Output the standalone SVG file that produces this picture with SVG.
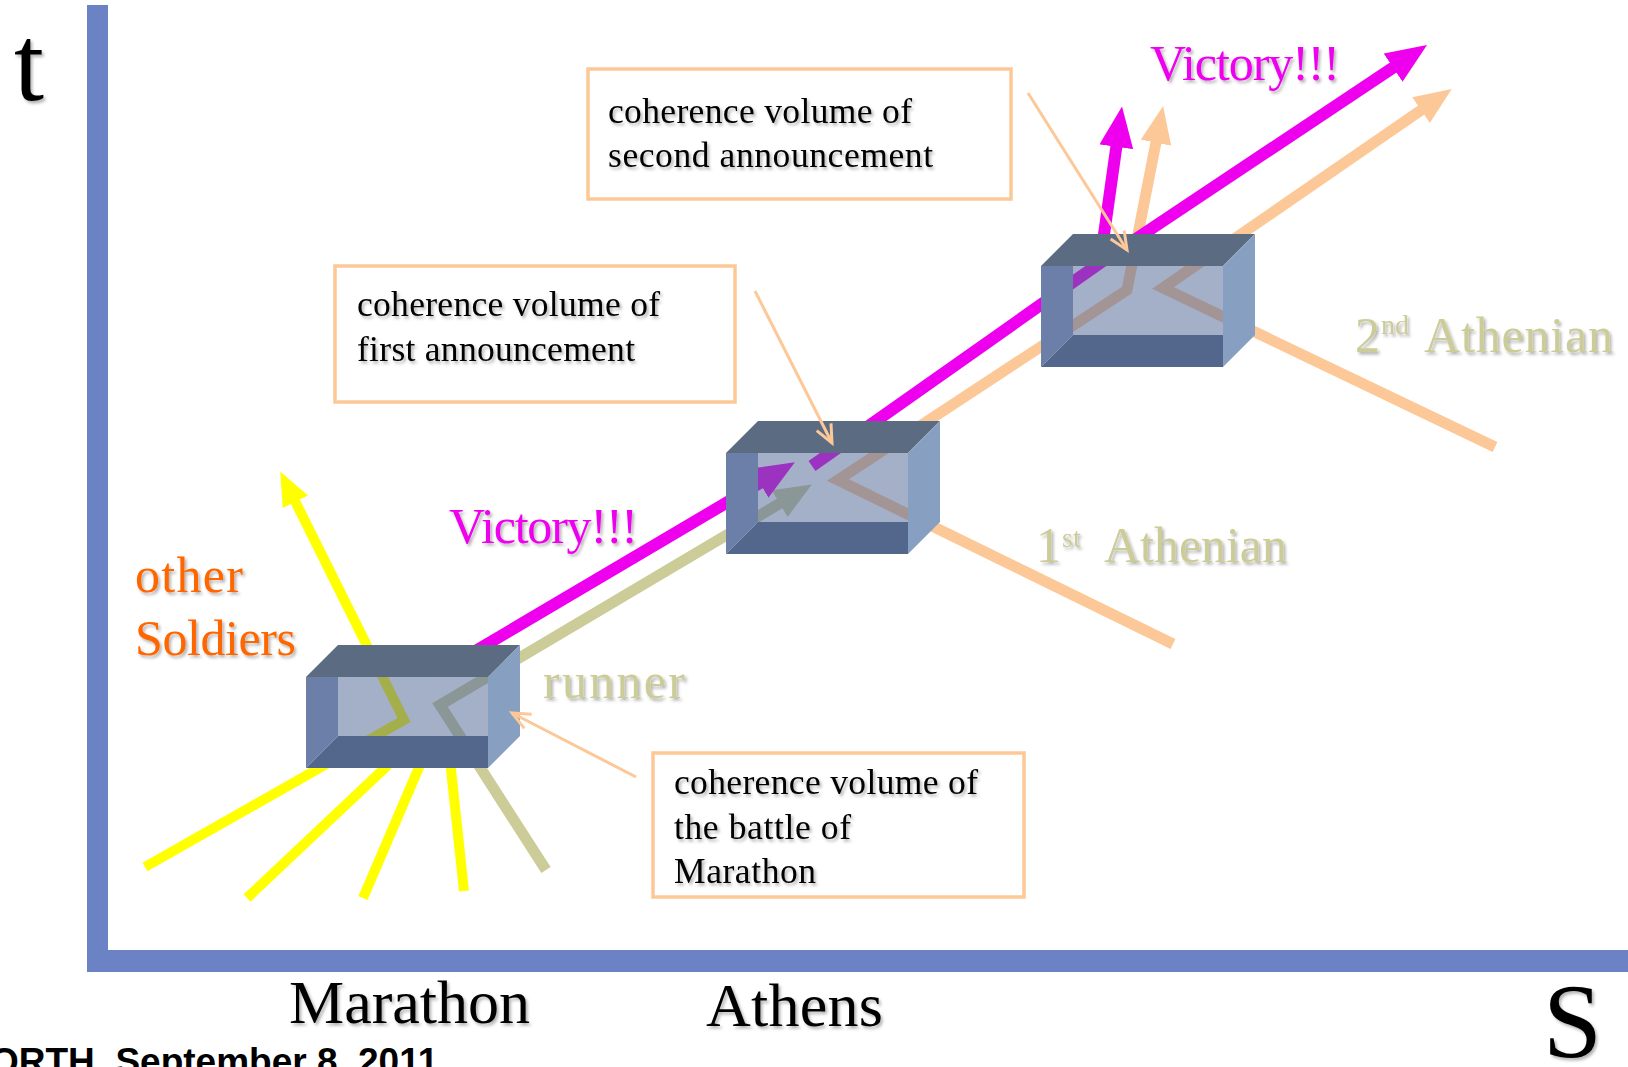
<svg xmlns="http://www.w3.org/2000/svg" width="1628" height="1067" viewBox="0 0 1628 1067">
<style>
.serif{font-family:"Liberation Serif","Times New Roman",serif}
.lbl{filter:url(#sh)}
.axis{fill:#6b83c4}
.top{fill:#5b6b82}
.left{fill:#6b7fa8}
.bot{fill:#53668c}
.right{fill:#87a0c2}
.win{fill:#4e6394;opacity:0.514}
.callout{fill:#fff;stroke:#fdc898;stroke-width:3.5}
.ctext{font-size:35.5px;fill:#000}
.thin{fill:none;stroke:#fdc898;stroke-width:3;marker-end:url(#mOpen)}
.yel{fill:none;stroke:#ffff00;stroke-width:10}
.mag{fill:none;stroke:#ee00ee;stroke-width:12}
.pea{fill:none;stroke:#fdc898;stroke-width:11}
.run{fill:none;stroke:#cccc99;stroke-width:11}
</style>
<defs>
<filter id="sh" x="-10%" y="-30%" width="130%" height="170%">
<feDropShadow dx="2" dy="2.5" stdDeviation="1.5" flood-color="#000" flood-opacity="0.3"/>
</filter>
<marker id="mMag" viewBox="0 0 12 10" refX="3.5" refY="5" markerWidth="3.4" markerHeight="2.83" orient="auto"><path d="M0,0 L12,5 L0,10 z" fill="#ee00ee"/></marker>
<marker id="mPea" viewBox="0 0 12 10" refX="3.5" refY="5" markerWidth="3.4" markerHeight="2.83" orient="auto"><path d="M0,0 L12,5 L0,10 z" fill="#fdc898"/></marker>
<marker id="mYel" viewBox="0 0 12 10" refX="3.5" refY="5" markerWidth="3.4" markerHeight="2.83" orient="auto"><path d="M0,0 L12,5 L0,10 z" fill="#ffff00"/></marker>
<marker id="mRun" viewBox="0 0 12 10" refX="3.5" refY="5" markerWidth="3.4" markerHeight="2.83" orient="auto"><path d="M0,0 L12,5 L0,10 z" fill="#cccc99"/></marker>
<marker id="mOpen" viewBox="0 0 24 20" refX="21" refY="10" markerWidth="24" markerHeight="20" markerUnits="userSpaceOnUse" orient="auto"><path d="M3,2 L21,10 L3,18" fill="none" stroke="#fdc898" stroke-width="3"/></marker>
</defs>
<rect width="1628" height="1067" fill="#fff"/>

<g id="axes">
<rect class="axis" x="87" y="5" width="21" height="967"/>
<rect class="axis" x="87" y="950" width="1541" height="22"/>
</g>

<g id="connectors">
<path class="yel" d="M247,898 L388,765"/>
<path class="yel" d="M363,898 L420,765"/>
<path class="yel" d="M464,891 L450,760"/>
<path class="yel" d="M145,867 L404,720 L291,493" marker-end="url(#mYel)"/>
<path class="run" d="M546,870 L440,705 L789,498" marker-end="url(#mRun)"/>
<path class="mag" d="M440,672 L770,477" marker-end="url(#mMag)"/>
<path class="pea" d="M1173,644 L838,480 L1127,290 L1158,132" marker-end="url(#mPea)"/>
<path class="pea" d="M1495,447 L1163,288 L1430,104" marker-end="url(#mPea)"/>
<path class="mag" d="M812,466 L1100,263 L1403,61" marker-end="url(#mMag)"/>
<path class="mag" d="M1100,263 L1118,135" marker-end="url(#mMag)"/>
</g>

<g id="box-battle">
<polygon class="top" points="306,677 338,645 520,645 488,677"/>
<polygon class="right" points="488,677 520,645 520,736 488,768"/>
<polygon class="left" points="306,677 338,677 338,736 306,768"/>
<polygon class="bot" points="306,768 338,736 488,736 488,768"/>
<rect class="win" x="338" y="677" width="150" height="59"/>
</g>

<g id="box-first">
<polygon class="top" points="726,453 758,421 940,421 908,453"/>
<polygon class="right" points="908,453 940,421 940,522 908,554"/>
<polygon class="left" points="726,453 758,453 758,522 726,554"/>
<polygon class="bot" points="726,554 758,522 908,522 908,554"/>
<rect class="win" x="758" y="453" width="150" height="69"/>
</g>

<g id="box-second">
<polygon class="top" points="1041,266 1073,234 1255,234 1223,266"/>
<polygon class="right" points="1223,266 1255,234 1255,335 1223,367"/>
<polygon class="left" points="1041,266 1073,266 1073,335 1041,367"/>
<polygon class="bot" points="1041,367 1073,335 1223,335 1223,367"/>
<rect class="win" x="1073" y="266" width="150" height="69"/>
</g>

<g id="callout-second">
<rect class="callout" x="588" y="69" width="423" height="130"/>
<text class="serif ctext lbl" x="608" y="123" textLength="304">coherence volume of</text>
<text class="serif ctext lbl" x="608" y="167" textLength="325">second announcement</text>
</g>

<g id="callout-first">
<rect class="callout" x="335" y="266" width="400" height="136"/>
<text class="serif ctext lbl" x="357" y="316" textLength="303">coherence volume of</text>
<text class="serif ctext lbl" x="357" y="361" textLength="278">first announcement</text>
</g>

<g id="callout-battle">
<rect class="callout" x="653" y="753" width="371" height="144"/>
<text class="serif ctext lbl" x="674" y="794" textLength="304">coherence volume of</text>
<text class="serif ctext lbl" x="674" y="839" textLength="177">the battle of</text>
<text class="serif ctext lbl" x="674" y="883" textLength="142">Marathon</text>
</g>

<g id="callout-connectors">
<path class="thin" d="M1028,93 L1127,250"/>
<path class="thin" d="M755,291 L832,443"/>
<path class="thin" d="M636,777 L512,713"/>
</g>

<g id="labels">
<text class="serif lbl" x="1150" y="80" font-size="50" fill="#ee00ee" textLength="190">Victory!!!</text>
<text class="serif lbl" x="449" y="543" font-size="50" fill="#ee00ee" textLength="189">Victory!!!</text>
<text class="serif lbl" x="135" y="592" font-size="50" fill="#ff6600" textLength="108">other</text>
<text class="serif lbl" x="135" y="655" font-size="50" fill="#ff6600" textLength="161">Soldiers</text>
<text class="serif lbl" x="543" y="698" font-size="50" fill="#cccc99" textLength="142">runner</text>
<text class="serif lbl" font-size="50" fill="#cccc99"><tspan x="1036" y="562">1</tspan><tspan x="1062" y="547" font-size="28">st</tspan><tspan x="1104" y="562" textLength="183">Athenian</tspan></text>
<text class="serif lbl" font-size="50" fill="#cccc99"><tspan x="1355" y="352">2</tspan><tspan x="1381" y="334" font-size="28">nd</tspan><tspan x="1424" y="352" textLength="189">Athenian</tspan></text>
<text class="serif lbl" x="14" y="100" font-size="108" fill="#000">t</text>
<text class="serif lbl" x="289" y="1023" font-size="62" fill="#000" textLength="241">Marathon</text>
<text class="serif lbl" x="706" y="1026" font-size="62" fill="#000" textLength="177">Athens</text>
<text class="serif lbl" x="1543" y="1057" font-size="106" fill="#000">S</text>
<text x="-10" y="1074" font-family="'Liberation Sans',Arial,sans-serif" font-weight="bold" font-size="37" fill="#000">ORTH, September 8, 2011</text>
</g>
</svg>
